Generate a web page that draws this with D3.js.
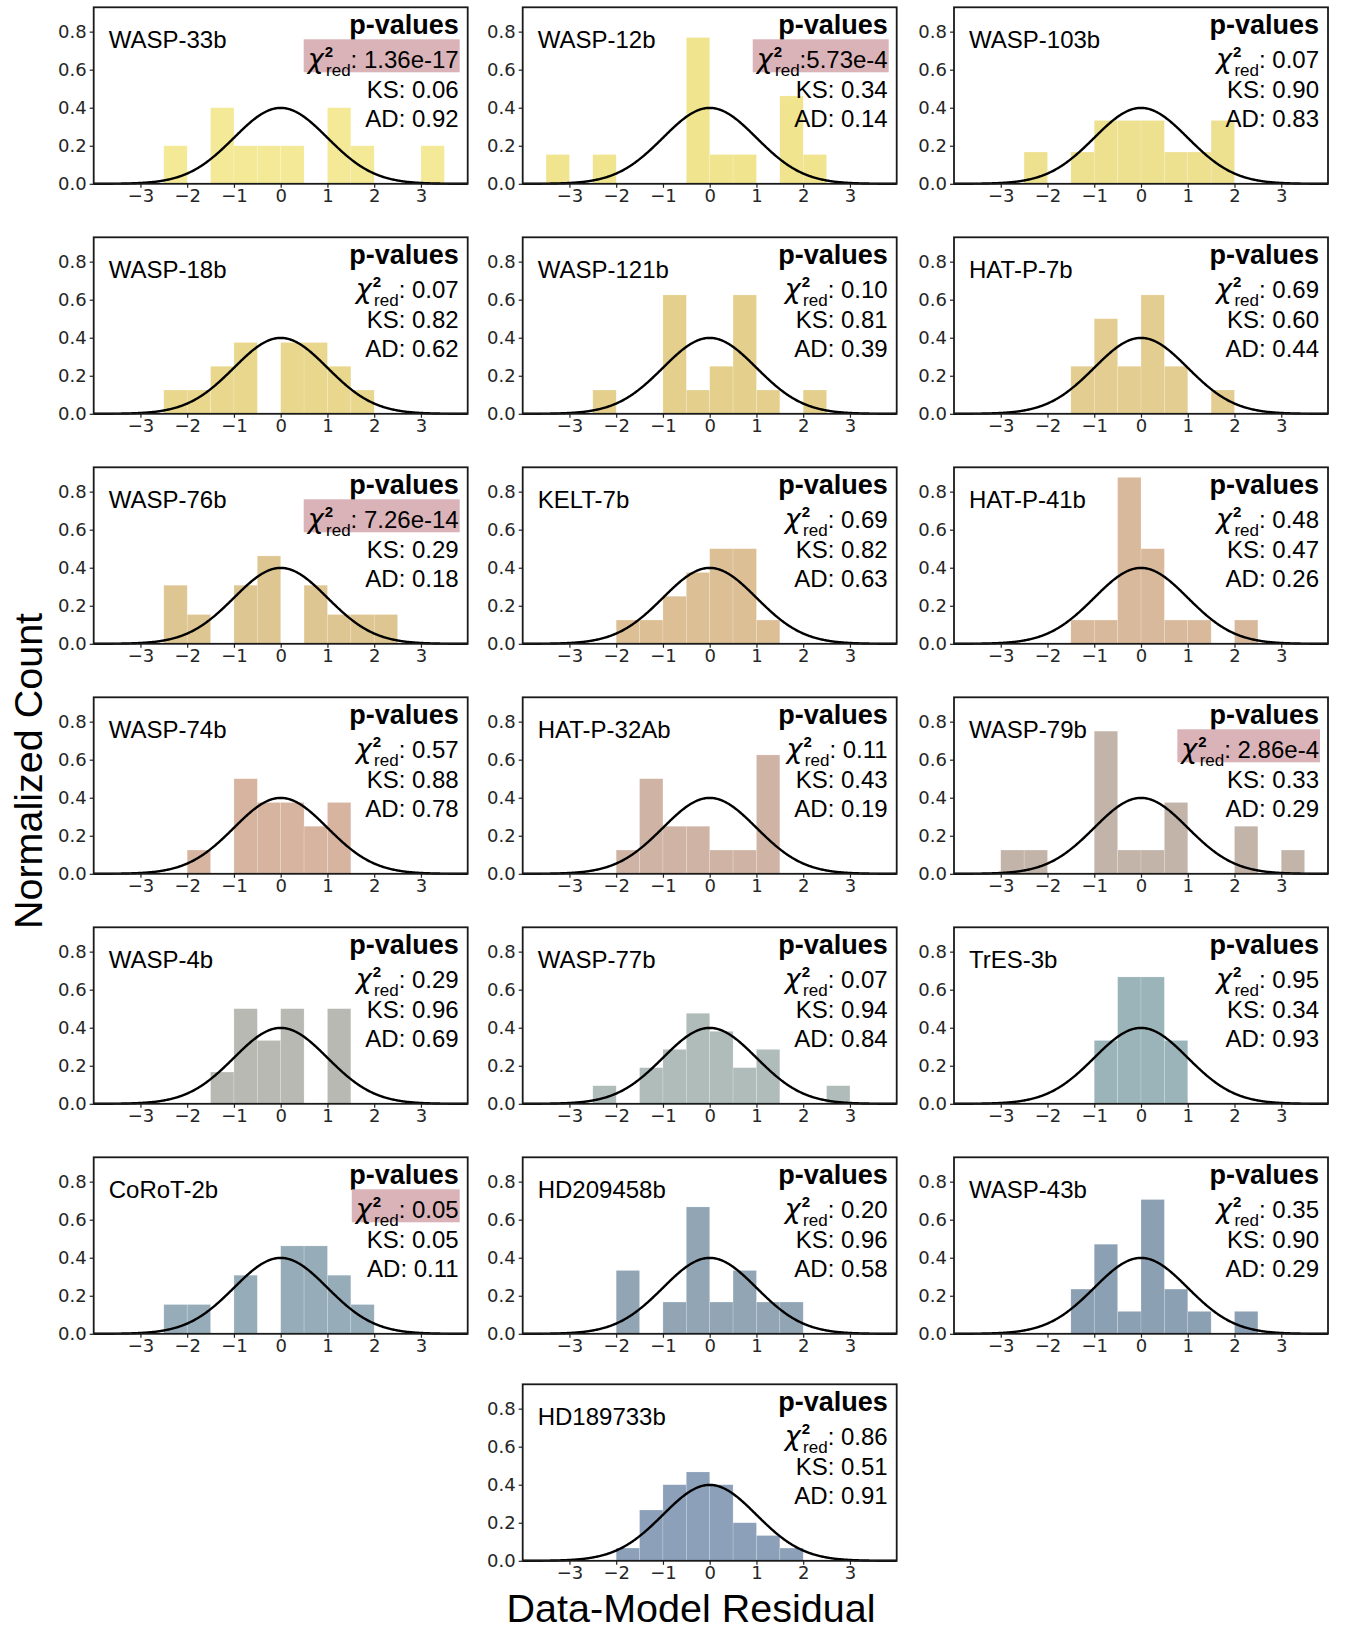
<!DOCTYPE html>
<html><head><meta charset="utf-8">
<script src="https://cdn.jsdelivr.net/npm/d3@7"></script>
<style>body{margin:0;background:#fff}</style>
</head><body>
<svg id="chart" width="1347" height="1630"></svg>
<script>
// ---------------- data ----------------
const planets = ["WASP-33b","WASP-12b","WASP-103b","WASP-18b","WASP-121b","HAT-P-7b",
  "WASP-76b","KELT-7b","HAT-P-41b","WASP-74b","HAT-P-32Ab","WASP-79b",
  "WASP-4b","WASP-77b","TrES-3b","CoRoT-2b","HD209458b","WASP-43b","HD189733b"];
const chiLabels = [": 1.36e-17",":5.73e-4",": 0.07",": 0.07",": 0.10",": 0.69",
  ": 7.26e-14",": 0.69",": 0.48",": 0.57",": 0.11",": 2.86e-4",
  ": 0.29",": 0.07",": 0.95",": 0.05",": 0.20",": 0.35",": 0.86"];
const ksLabels = ["0.06","0.34","0.90","0.82","0.81","0.60","0.29","0.82","0.47","0.88","0.43","0.33",
  "0.96","0.94","0.34","0.05","0.96","0.90","0.51"];
const adLabels = ["0.92","0.14","0.83","0.62","0.39","0.44","0.18","0.63","0.26","0.78","0.19","0.29",
  "0.69","0.84","0.93","0.11","0.58","0.29","0.91"];
const highlighted = [true,true,false,false,false,false,true,false,false,false,false,true,
  false,false,false,true,false,false,false];
const barColors = ["#f3e996","#f0e48e","#ede08f","#e8d78c","#e4d08c","#e4cd91",
  "#dec692","#dcbf95","#d9b99b","#d6b4a0","#cfb4a5","#c3b4aa",
  "#b9b9b4","#afbcb9","#9bb4b9","#96adb9","#91a5b4","#8ca0b4","#8ca0b9"];
const binLefts = [-3.5,-3,-2.5,-2,-1.5,-1,-0.5,0,0.5,1,1.5,2,2.5,3];
const binWidth = 0.5;
const heights = [
  [0,0,0.2,0,0.4,0.2,0.2,0.2,0,0.4,0.2,0,0,0.2],
  [0.154,0,0.154,0,0,0,0.769,0.154,0.154,0,0.462,0.154,0,0],
  [0,0,0.167,0,0.167,0.333,0.333,0.333,0.167,0.167,0.333,0,0,0],
  [0,0,0.125,0.125,0.25,0.375,0,0.375,0.375,0.25,0.125,0,0,0],
  [0,0,0.125,0,0,0.625,0.125,0.25,0.625,0.125,0,0.125,0,0],
  [0,0,0,0,0.25,0.5,0.25,0.625,0.25,0,0.125,0,0,0],
  [0,0,0.308,0.154,0,0.308,0.462,0,0.308,0.154,0.154,0.154,0,0],
  [0,0,0,0.125,0.125,0.25,0.375,0.5,0.5,0.125,0,0,0,0],
  [0,0,0,0,0.125,0.125,0.875,0.5,0.125,0.125,0,0.125,0,0],
  [0,0,0,0.125,0,0.5,0.375,0.375,0.25,0.375,0,0,0,0],
  [0,0,0,0.125,0.5,0.25,0.25,0.125,0.125,0.625,0,0,0,0],
  [0,0.125,0.125,0,0,0.75,0.125,0.125,0.375,0,0,0.25,0,0.125],
  [0,0,0,0,0.167,0.5,0.333,0.5,0,0.5,0,0,0,0],
  [0,0,0.095,0,0.19,0.286,0.476,0.381,0.19,0.286,0,0,0.095,0],
  [0,0,0,0,0,0.333,0.667,0.667,0.333,0,0,0,0,0],
  [0,0,0.154,0.154,0,0.308,0,0.462,0.462,0.308,0.154,0,0,0],
  [0,0,0,0.333,0,0.167,0.667,0.167,0.333,0.167,0.167,0,0,0],
  [0,0,0,0,0.235,0.471,0.118,0.706,0.235,0.118,0,0.118,0,0],
  [0,0,0,0.067,0.267,0.4,0.467,0.4,0.2,0.133,0.067,0,0,0]
];
const xTicks = [-3,-2,-1,0,1,2,3];
const yTicks = [0,0.2,0.4,0.6,0.8];
const xDomain = [-4,4];
const yDomain = [0,0.928];

// ---------------- layout ----------------
const svg = d3.select("#chart");
const colLeft = [93.7, 522.7, 954];
const rowTop = [7.3, 237.3, 467.3, 697.3, 927.3, 1157.3, 1384.3];
const W = 374, H = 176.5;
const sans = "'Liberation Sans', Arial, sans-serif";
const tickFont = "'DejaVu Sans', sans-serif";

const x = d3.scaleLinear().domain(xDomain).range([0, W]);
const y = d3.scaleLinear().domain(yDomain).range([H, 0]);
const gaussPts = d3.range(-4, 4.0001, 0.02).map(v => [v, Math.exp(-v*v/2)/Math.sqrt(2*Math.PI)]);
const line = d3.line().x(d => x(d[0])).y(d => y(d[1])).curve(d3.curveLinear);

planets.forEach((name, i) => {
  const row = i < 18 ? Math.floor(i/3) : 6;
  const col = i < 18 ? i % 3 : 1;
  const g = svg.append("g").attr("transform", `translate(${colLeft[col]},${rowTop[row]})`);

  // bars
  g.selectAll("rect.bar").data(binLefts.map((b, k) => ({b, h: heights[i][k]})).filter(d => d.h > 0))
    .enter().append("rect").attr("class","bar")
    .attr("x", d => x(d.b)).attr("width", d => x(d.b + binWidth) - x(d.b))
    .attr("y", d => y(d.h)).attr("height", d => y(0) - y(d.h))
    .attr("fill", barColors[i])
    .attr("stroke", "#ffffff").attr("stroke-opacity", 0.3).attr("stroke-width", 0.6);

  // gaussian
  g.append("path").datum(gaussPts).attr("d", line)
    .attr("fill","none").attr("stroke","#000").attr("stroke-width",2.4);

  // axes
  const ya = g.append("g").call(d3.axisLeft(y).tickValues(yTicks).tickFormat(d3.format(".1f")).tickSize(4).tickPadding(3));
  const xa = g.append("g").attr("transform",`translate(0,${H})`)
    .call(d3.axisBottom(x).tickValues(xTicks).tickFormat(d3.format("d")).tickSize(4).tickPadding(1));
  [ya, xa].forEach(a => {
    a.select(".domain").remove();
    a.selectAll("line").attr("stroke","#222").attr("stroke-width",1.2);
    a.selectAll("text").attr("font-family", tickFont).attr("font-size", 18).attr("fill","#262626");
  });

  // frame
  g.append("rect").attr("x",0).attr("y",0).attr("width",W).attr("height",H)
    .attr("fill","none").attr("stroke","#1a1a1a").attr("stroke-width",1.8);

  // planet name
  g.append("text").attr("x", 15).attr("y", 41).attr("font-family", sans).attr("font-size", 24)
    .attr("fill","#000").text(name);

  const rx = W - 9;
  g.append("text").attr("x", rx).attr("y", 27).attr("text-anchor","end")
    .attr("font-family", sans).attr("font-size", 27).attr("font-weight","bold").text("p-values");

  const hl = g.append("g");
  const chi = g.append("text").attr("x", rx).attr("y", 61).attr("text-anchor","end")
    .attr("font-family", sans).attr("font-size", 24);
  chi.append("tspan").attr("font-family","'DejaVu Sans', sans-serif").attr("font-style","italic")
    .attr("font-size", 27).text("χ");
  chi.append("tspan").attr("font-size",15).attr("font-weight","bold").attr("dy",-11).attr("dx",1).text("2");
  chi.append("tspan").attr("font-size",17).attr("dx",-7).attr("dy",19).text("red");
  chi.append("tspan").attr("dy",-8).text(chiLabels[i]);
  if (highlighted[i]) {
    const bb = chi.node().getBBox();
    hl.append("rect").attr("x", bb.x - 2).attr("y", 32).attr("width", rx + 1 - (bb.x - 2)).attr("height", 33)
      .attr("fill", "#d9b3b8");
  }

  g.append("text").attr("x", rx).attr("y", 91).attr("text-anchor","end")
    .attr("font-family", sans).attr("font-size", 24).text("KS: " + ksLabels[i]);
  g.append("text").attr("x", rx).attr("y", 120).attr("text-anchor","end")
    .attr("font-family", sans).attr("font-size", 24).text("AD: " + adLabels[i]);
});

// axis titles
svg.append("text").attr("transform","translate(42,771) rotate(-90)").attr("text-anchor","middle")
  .attr("font-family", sans).attr("font-size", 39.5).text("Normalized Count");
svg.append("text").attr("x", 691).attr("y", 1622).attr("text-anchor","middle")
  .attr("font-family", sans).attr("font-size", 39.5).text("Data-Model Residual");
</script>
</body></html>
